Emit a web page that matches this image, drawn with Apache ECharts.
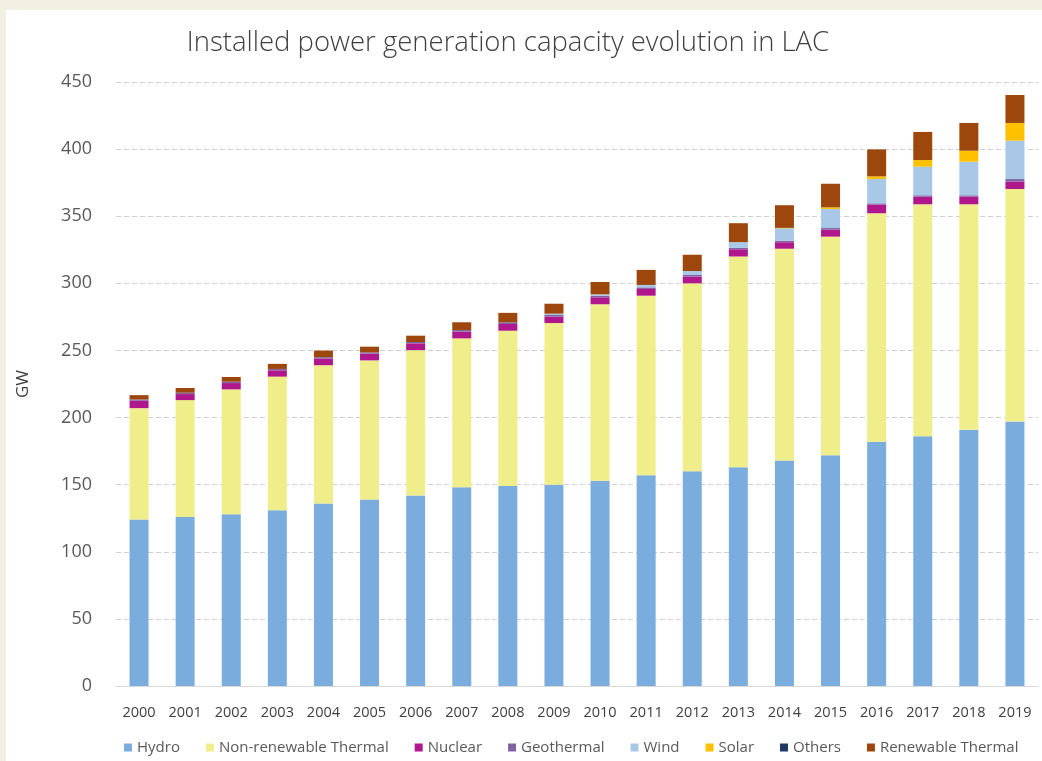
<!DOCTYPE html>
<html>
<head>
<meta charset="utf-8">
<title>Installed power generation capacity evolution in LAC</title>
<script src="https://cdn.jsdelivr.net/npm/echarts@6/dist/echarts.min.js"></script>
<style>
  html, body { margin: 0; padding: 0; background: #f2f0e3; }
  #chart { width: 1042px; height: 761px; }
</style>
</head>
<body>
<div id="chart"></div>
<script>
// years on the x axis
var years = ['2000', '2001', '2002', '2003', '2004', '2005', '2006', '2007', '2008', '2009',
  '2010', '2011', '2012', '2013', '2014', '2015', '2016', '2017', '2018', '2019']

// capacity per source, GW
var hydro = [124, 126, 128, 131, 136, 139, 142, 148, 149, 150, 153, 157, 160, 163, 168, 172, 182, 186, 191, 197]
var nonRenewableThermal = [83, 87, 93, 99.5, 103, 103.6, 108.2, 111, 115.7, 120.4, 131.4, 133.8, 140, 157, 157.8, 162.8, 170.2, 172.9, 167.9, 173.3]
var nuclear = [5.5, 4.5, 4.7, 4.7, 5, 5, 5.1, 5, 5, 4.8, 5.2, 5, 5, 5.4, 4.8, 5.2, 6.4, 5.7, 5.7, 5.4]
var geothermal = [1, 1, 1, 1, 1, 1, 1, 1.2, 1.3, 1.2, 1.2, 1.2, 1.2, 1, 1.2, 1.2, 1, 1, 1, 2]
var wind = [0, 0, 0, 0, 0, 0, 0, 0, 0, 1, 1, 1.8, 3, 4.3, 9.2, 14.2, 18.1, 21.3, 25, 28.6]
var solar = [0, 0, 0, 0, 0, 0, 0, 0, 0, 0, 0, 0, 0, 0, 0.3, 1.2, 2, 5, 8.2, 13.2]
var others = [0, 0, 0, 0, 0, 0, 0, 0, 0, 0, 0, 0, 0, 0, 0, 0, 0, 0, 0, 0]
var renewableThermal = [3.2, 3.5, 3.5, 3.8, 4.9, 4.2, 4.7, 5.8, 7, 7.4, 9.2, 11.2, 12.1, 14.1, 16.9, 17.6, 20.1, 20.9, 20.7, 20.8]

var yTicks = [0, 50, 100, 150, 200, 250, 300, 350, 400, 450]

var sources = [
  { name: 'Hydro', data: hydro, color: '#7aadde' },
  { name: 'Non-renewable Thermal', data: nonRenewableThermal, color: '#f0ee8a' },
  { name: 'Nuclear', data: nuclear, color: '#b0178c' },
  { name: 'Geothermal', data: geothermal, color: '#8064a2' },
  { name: 'Wind', data: wind, color: '#a9c8e8' },
  { name: 'Solar', data: solar, color: '#ffc000' },
  { name: 'Others', data: others, color: '#1f3864' },
  { name: 'Renewable Thermal', data: renewableThermal, color: '#9e470d' }
]

var font = '"Open Sans", "Noto Sans", sans-serif'
var chart = echarts.init(document.getElementById('chart'))

chart.setOption({
  animation: false,
  backgroundColor: '#f2f0e3',
  textStyle: { fontFamily: font },
  graphic: [
    {
      type: 'rect',
      z: -10,
      shape: { x: 6, y: 10, width: 1036, height: 751 },
      style: { fill: '#ffffff' }
    }
  ],
  title: {
    text: 'Installed power generation capacity evolution in LAC',
    left: 503,
    top: 24,
    textAlign: 'center',
    textStyle: { fontSize: 27.5, fontWeight: 300, color: '#404040', fontFamily: font }
  },
  legend: {
    top: 735,
    left: 119,
    itemWidth: 8,
    itemHeight: 8,
    itemGap: 26,
    icon: 'rect',
    textStyle: { fontSize: 15, color: '#595959', fontFamily: font },
    data: sources.map(function (s) { return s.name })
  },
  grid: {
    left: 116,
    right: 4,
    top: 82,
    bottom: 75
  },
  xAxis: {
    type: 'category',
    data: years,
    axisTick: { show: false },
    axisLine: { lineStyle: { color: '#d9d9d9', width: 1 } },
    axisLabel: { fontSize: 14.5, color: '#404040', margin: 19, fontFamily: font }
  },
  yAxis: {
    type: 'value',
    name: 'GW',
    nameLocation: 'middle',
    nameGap: 84,
    nameTextStyle: { fontSize: 17, color: '#404040', fontFamily: font },
    min: yTicks[0],
    max: yTicks[yTicks.length - 1],
    interval: 50,
    axisLine: { show: false },
    axisTick: { show: false },
    axisLabel: { fontSize: 18, color: '#595959', margin: 24, fontFamily: font },
    splitLine: { lineStyle: { color: '#d0d0d0', type: [5, 3], width: 1 } }
  },
  series: sources.map(function (s) {
    return {
      name: s.name,
      type: 'bar',
      stack: 'total',
      barWidth: 19,
      itemStyle: { color: s.color },
      data: s.data
    }
  })
})
</script>
</body>
</html>
